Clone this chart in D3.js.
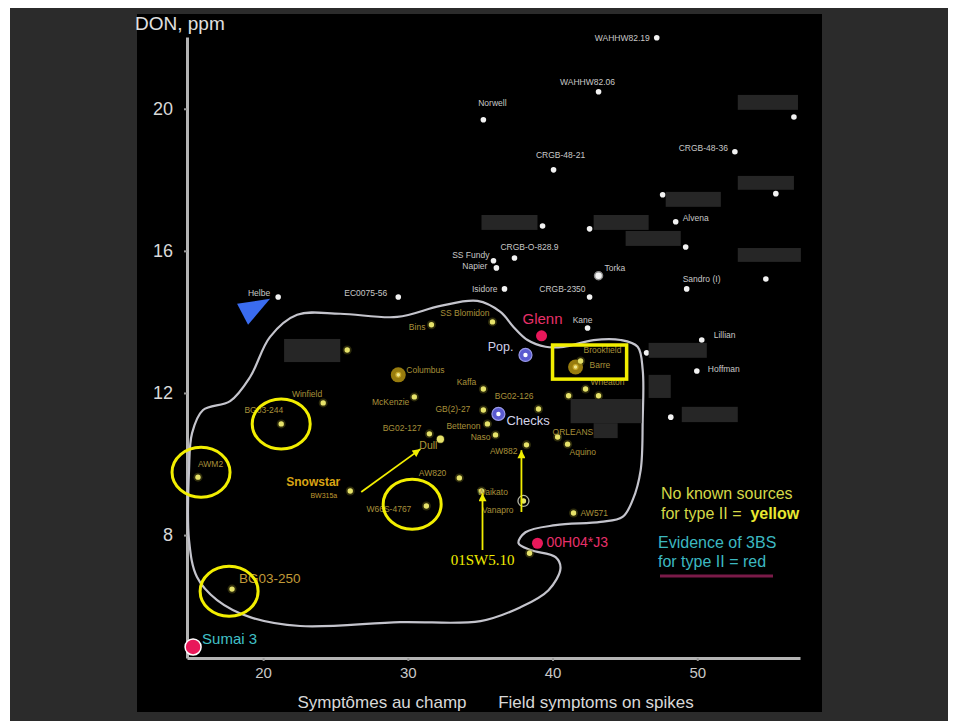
<!DOCTYPE html>
<html>
<head>
<meta charset="utf-8">
<script src="https://cdn.jsdelivr.net/npm/d3@7"></script>
<style>
body { margin: 0; background: #fff; }
svg text { font-family: Arial, "Liberation Sans", sans-serif; }
</style>
</head>
<body>
<div id="chart-area"></div>
<script>
// lines outside the curve (white) : name, field symptoms, DON
let whitePts = [
    ["WAHHW82.19", 47.2, 22.0],
    ["WAHHW82.06", 43.18, 20.48],
    ["Norwell", 35.22, 19.69],
    ["", 56.68, 19.77],
    ["CRGB-48-36", 52.6, 18.79],
    ["CRGB-48-21", 40.07, 18.28],
    ["", 47.61, 17.58],
    ["", 55.43, 17.61],
    ["", 39.31, 16.70],
    ["", 42.56, 16.62],
    ["Alvena", 48.51, 16.82],
    ["", 49.2, 16.11],
    ["", 54.74, 15.21],
    ["CRGB-O-828.9", 37.37, 15.80],
    ["SS Fundy", 35.92, 15.72],
    ["Napier", 36.12, 15.52],
    ["Torka", 43.18, 15.30],
    ["Sandro (I)", 49.27, 14.93],
    ["Isidore", 36.68, 14.93],
    ["CRGB-2350", 42.56, 14.70],
    ["Helbe", 21.04, 14.70],
    ["EC0075-56", 29.34, 14.70],
    ["Kane", 42.42, 13.83],
    ["Lillian", 50.31, 13.49],
    ["", 46.5, 13.13],
    ["Hoffman", 49.97, 12.62],
    ["", 48.17, 11.32]
];

// lines inside the curve (yellow)
let yellowPts = [
    ["", 25.81, 13.21],
    ["SS Blomidon", 35.85, 14.0],
    ["Bins", 31.63, 13.92],
    ["Columbus", 29.34, 12.51],
    ["Kaffa", 35.22, 12.11],
    ["McKenzie", 30.45, 11.89],
    ["Winfield", 24.15, 11.72],
    ["BG03-244", 21.25, 11.13],
    ["GB(2)-27", 35.22, 11.52],
    ["BG02-126", 39.03, 11.55],
    ["Bettenon", 35.5, 11.13],
    ["BG02-127", 31.49, 10.85],
    ["Dull", 32.25, 10.70],
    ["Naso", 36.06, 10.82],
    ["AW882", 38.2, 10.54],
    ["ORLEANS", 40.35, 10.76],
    ["Aquino", 41.04, 10.56],
    ["AW820", 33.56, 9.61],
    ["AWM2", 15.5, 9.63],
    ["Snowstar", 26.02, 9.24],
    ["W66S-4767", 31.28, 8.82],
    ["Waikato", 35.09, 9.24],
    ["Vanapro", 37.99, 8.96],
    ["AW571", 41.45, 8.62],
    ["", 38.41, 7.49],
    ["BG03-250", 17.85, 6.48],
    ["Barre", 41.59, 12.73],
    ["Brookfield", 41.94, 12.9],
    ["Wheaton", 42.28, 12.11],
    ["", 41.11, 11.92],
    ["", 43.18, 11.92]
];

let redPts = [["Glenn", 39.24, 13.61], ["00H04*J3", 38.96, 7.77], ["Sumai 3", 15.16, 4.85]];
let checkPts = [["Pop.", 38.13, 13.07], ["Checks", 36.26, 11.41]];
let ringed = ["Columbus", "Barre", "Torka"];
let whiteRinged = ["Vanapro"];

let yTicks = [8, 12, 16, 20];
let xTicks = [20, 30, 40, 50];

// closed curve round the yellow group
let outline = [
    [22.35, 14.20], [25.33, 14.23], [29.27, 14.14], [32.25, 14.45], [34.81, 14.59],
    [36.40, 14.28], [37.30, 13.86], [38.27, 13.49], [39.52, 13.30], [40.76, 13.30],
    [42.84, 13.49], [44.71, 13.49], [45.88, 13.30], [46.23, 12.65], [46.23, 11.24],
    [46.09, 9.83], [45.54, 8.99], [44.84, 8.51], [43.32, 8.37], [40.21, 8.28],
    [38.13, 8.08], [37.65, 7.77], [38.48, 7.58], [40.21, 7.38], [40.55, 7.07],
    [39.72, 6.45], [37.79, 5.97], [35.02, 5.58], [29.48, 5.55], [22.56, 5.44],
    [19.10, 5.69], [16.82, 6.17], [15.43, 6.82], [14.88, 7.86], [14.88, 9.83],
    [15.09, 10.87], [15.85, 11.52], [17.72, 11.77], [19.10, 12.45], [20.48, 13.58]
];

// hidden names: x0, x1, yTop, yBottom
let redacted = [
    [52.8, 56.96, 20.39, 19.97], [47.82, 51.63, 17.66, 17.24], [52.8, 56.68, 18.11, 17.72],
    [35.09, 38.96, 17.01, 16.59], [42.84, 46.64, 17.01, 16.59], [45.05, 48.86, 16.56, 16.14],
    [52.8, 57.16, 16.08, 15.69], [46.64, 50.66, 13.41, 12.99], [48.93, 52.8, 11.61, 11.18],
    [46.64, 48.17, 12.51, 11.86], [41.25, 46.16, 11.83, 11.15], [42.84, 44.5, 11.15, 10.73],
    [21.45, 25.33, 13.52, 12.87]
];

let circled = [[15.71, 9.77], [21.25, 11.13], [30.3, 8.87], [17.65, 6.42]];
let boxed = [[40.0, 13.35], [45.12, 12.39]];
let arrows = [
    [[26.78, 9.21], [30.87, 10.42]],
    [[35.16, 7.58], [35.16, 9.18]],
    [[37.85, 8.65], [37.85, 10.39]]
];
let pointer = [[18.2, 14.51], [20.48, 14.65], [18.96, 13.92]];

// label offsets from the dot [dx, dy, anchor]
let labelAt = {
    "WAHHW82.19": [-7, 0, "end"], "WAHHW82.06": [-11, -10, "middle"], "Norwell": [9, -17, "middle"],
    "CRGB-48-36": [-7, -4, "end"], "CRGB-48-21": [7, -15, "middle"], "Alvena": [7, -4, "start"],
    "CRGB-O-828.9": [15, -11, "middle"], "SS Fundy": [-4, -6, "end"], "Napier": [-9, -2, "end"],
    "Torka": [6, -8, "start"], "Sandro (I)": [-4, -10, "start"], "Isidore": [-7, 0, "end"],
    "CRGB-2350": [-4, -8, "end"], "Helbe": [-8, -4, "end"], "EC0075-56": [-11, -4, "end"],
    "Kane": [-5, -8, "middle"], "Lillian": [12, -5, "start"], "Hoffman": [11, -2, "start"],
    "SS Blomidon": [-3, -9, "end"], "Bins": [-6, 2, "end"], "Columbus": [8, -5, "start"],
    "Kaffa": [-7, -7, "end"], "McKenzie": [-5, 5, "end"], "Winfield": [-1, -9, "end"],
    "BG03-244": [2, -14, "end"], "GB(2)-27": [-13, -1, "end"], "BG02-126": [-5, -13, "end"],
    "Bettenon": [-7, 2, "end"], "BG02-127": [-8, -6, "end"], "Dull": [-3, 6, "end"],
    "Naso": [-5, 2, "end"], "AW882": [-9, 6, "end"], "ORLEANS": [-5, -5, "start"],
    "Aquino": [2, 8, "start"], "AW820": [-13, -5, "end"], "AWM2": [0, -13, "start"],
    "Snowstar": [-10, -9, "end"], "W66S-4767": [-15, 3, "end"], "Waikato": [-4, 1, "start"],
    "Vanapro": [-10, 9, "end"], "AW571": [7, 0, "start"], "BG03-250": [7, -11, "start"],
    "Barre": [14, -2, "start"], "Brookfield": [3, -11, "start"], "Wheaton": [5, -7, "start"],
    "Glenn": [1, -17, "middle"], "00H04*J3": [9, -1, "start"], "Sumai 3": [9, -8, "start"],
    "Pop.": [-12, -8, "end"], "Checks": [8, 7, "start"]
};

let svg = d3.select("#chart-area")
    .append("svg")
    .attr("width", 958)
    .attr("height", 721);

svg.append("rect").attr("width", 958).attr("height", 721).attr("fill", "#fff");
svg.append("rect").attr("x", 10).attr("y", 8).attr("width", 938).attr("height", 713).attr("fill", "#2b2b2b");
svg.append("rect").attr("x", 137).attr("y", 14).attr("width", 685).attr("height", 698).attr("fill", "#000");

let x = d3.scaleLinear().domain([14.74, 57.1]).range([187, 800]);
let y = d3.scaleLinear().domain([4.54, 22.02]).range([658, 37]);

// axes
let xAxisGroup = svg.append("g")
    .attr("transform", `translate(0,${y(y.domain()[0])})`)
    .call(d3.axisBottom(x).tickValues(xTicks).tickSize(3).tickSizeOuter(0).tickPadding(6));
let yAxisGroup = svg.append("g")
    .attr("transform", `translate(${x(x.domain()[0])},0)`)
    .call(d3.axisLeft(y).tickValues(yTicks).tickSize(3).tickSizeOuter(0).tickPadding(11));

svg.selectAll(".domain").attr("stroke", "#b4b4b4").attr("stroke-width", 3);
svg.selectAll(".tick line").attr("stroke", "#999").attr("stroke-width", 2);
xAxisGroup.selectAll("text").attr("fill", "#c8c8c8").style("font-size", "15px");
yAxisGroup.selectAll("text").attr("fill", "#d8d8d8").style("font-size", "18px");

svg.append("text").attr("x", 135).attr("y", 30).attr("fill", "#e0e0e0")
    .style("font-size", "19px").text("DON, ppm");
svg.append("text").attr("x", 382).attr("y", 708).attr("text-anchor", "middle").attr("fill", "#d8d8d8")
    .style("font-size", "17px").text("Symptômes au champ");
svg.append("text").attr("x", 596).attr("y", 708).attr("text-anchor", "middle").attr("fill", "#d8d8d8")
    .style("font-size", "17px").text("Field symptoms on spikes");

// the curve
svg.append("path")
    .datum(outline)
    .attr("d", d3.line().x(d => x(d[0])).y(d => y(d[1])).curve(d3.curveCatmullRomClosed.alpha(0.5)))
    .attr("fill", "none")
    .attr("stroke", "#c4c4cc")
    .attr("stroke-width", 2.2);

// dots
let whiteG = svg.append("g");
whiteG.selectAll("circle").data(whitePts).enter().append("circle")
    .attr("cx", d => x(d[1])).attr("cy", d => y(d[2]))
    .attr("r", d => ringed.includes(d[0]) ? 4 : 2.8)
    .attr("fill", "#f2f2f2")
    .attr("stroke", d => ringed.includes(d[0]) ? "#888" : "none")
    .attr("stroke-width", 1.5);

let yellowG = svg.append("g");
yellowG.selectAll("circle.halo").data(yellowPts).enter().append("circle")
    .attr("class", "halo")
    .attr("cx", d => x(d[1])).attr("cy", d => y(d[2]))
    .attr("r", d => ringed.includes(d[0]) ? 7.5 : (whiteRinged.includes(d[0]) ? 5.5 : 4.5))
    .attr("fill", d => ringed.includes(d[0]) ? "#a88a10" : (whiteRinged.includes(d[0]) ? "#000" : "#807a20"))
    .attr("stroke", d => whiteRinged.includes(d[0]) ? "#c8c8b8" : "none")
    .attr("stroke-width", 1.3)
    .attr("opacity", d => ringed.includes(d[0]) || whiteRinged.includes(d[0]) ? 0.9 : 0.35);
yellowG.selectAll("circle.dot").data(yellowPts).enter().append("circle")
    .attr("class", "dot")
    .attr("cx", d => x(d[1])).attr("cy", d => y(d[2]))
    .attr("r", d => d[0] === "Dull" ? 3.6 : (ringed.includes(d[0]) ? 2.4 : 2.7))
    .attr("fill", d => ringed.includes(d[0]) ? "#f0e890" : "#e6e26a")
    .attr("stroke", d => ringed.includes(d[0]) ? "#c8a828" : "none")
    .attr("stroke-width", 1.2);

svg.selectAll("circle.red").data(redPts).enter().append("circle")
    .attr("class", "red")
    .attr("cx", d => x(d[1])).attr("cy", d => y(d[2]))
    .attr("r", d => d[0] === "Sumai 3" ? 8 : 5.5)
    .attr("fill", "#e8185a")
    .attr("stroke", d => d[0] === "Sumai 3" ? "#fff" : "none")
    .attr("stroke-width", 1.5);

svg.selectAll("circle.chk").data(checkPts).enter().append("circle")
    .attr("class", "chk")
    .attr("cx", d => x(d[1])).attr("cy", d => y(d[2]))
    .attr("r", 6.5).attr("fill", "#5a5ad0").attr("stroke", "#9a9ae8").attr("stroke-width", 1.2);
svg.selectAll("circle.chkin").data(checkPts).enter().append("circle")
    .attr("class", "chkin")
    .attr("cx", d => x(d[1])).attr("cy", d => y(d[2]))
    .attr("r", 2.2).attr("fill", "#fff");

// hidden names
svg.selectAll("rect.hide").data(redacted).enter().append("rect")
    .attr("class", "hide")
    .attr("x", d => x(d[0])).attr("y", d => y(d[2]))
    .attr("width", d => x(d[1]) - x(d[0])).attr("height", d => y(d[3]) - y(d[2]))
    .attr("fill", "#262626");

// labels
function addLabels(pts, size, color, styleFor) {
    svg.append("g").selectAll("text").data(pts.filter(d => d[0] && labelAt[d[0]])).enter().append("text")
        .attr("x", d => x(d[1]) + labelAt[d[0]][0])
        .attr("y", d => y(d[2]) + labelAt[d[0]][1])
        .attr("dy", "0.35em")
        .attr("text-anchor", d => labelAt[d[0]][2])
        .attr("fill", d => (styleFor && styleFor[d[0]]) ? styleFor[d[0]][1] : color)
        .style("font-size", d => ((styleFor && styleFor[d[0]]) ? styleFor[d[0]][0] : size) + "px")
        .style("font-weight", d => (styleFor && styleFor[d[0]] && styleFor[d[0]][2]) ? "bold" : "normal")
        .text(d => d[0]);
}
addLabels(whitePts, 8.5, "#c8c8c8");
addLabels(yellowPts, 8.5, "#a8903a", {
    "Snowstar": [12, "#d8a414", true],
    "BG03-250": [13.5, "#c09a38"],
    "Dull": [10.5, "#b09838"]
});
addLabels(redPts, 14, "#e8306a", { "Glenn": [15, "#e8306a"], "Sumai 3": [15, "#40c0c8"] });
addLabels(checkPts, 13, "#d4d4e8", { "Pop.": [12.5, "#d0d0e8"] });

let snow = yellowPts.find(d => d[0] === "Snowstar");
svg.append("text").attr("x", x(snow[1]) - 13).attr("y", y(snow[2]) + 5).attr("dy", "0.35em")
    .attr("text-anchor", "end").attr("fill", "#c09a30").style("font-size", "7px").text("BW315a");

// yellow annotations
let yel = "#f2ee00";
svg.append("defs").append("marker")
    .attr("id", "head").attr("viewBox", "0 0 10 10").attr("refX", 10).attr("refY", 5)
    .attr("markerWidth", 9).attr("markerHeight", 8).attr("markerUnits", "userSpaceOnUse")
    .attr("orient", "auto")
    .append("path").attr("d", "M0,0 L10,5 L0,10 Z").attr("fill", yel);

svg.selectAll("ellipse.ring").data(circled).enter().append("ellipse")
    .attr("class", "ring")
    .attr("cx", d => x(d[0])).attr("cy", d => y(d[1]))
    .attr("rx", 29).attr("ry", 25)
    .attr("fill", "none").attr("stroke", yel).attr("stroke-width", 3);

svg.append("rect")
    .attr("x", x(boxed[0][0])).attr("y", y(boxed[0][1]))
    .attr("width", x(boxed[1][0]) - x(boxed[0][0])).attr("height", y(boxed[1][1]) - y(boxed[0][1]))
    .attr("fill", "none").attr("stroke", yel).attr("stroke-width", 3.5);

svg.selectAll("line.arrow").data(arrows).enter().append("line")
    .attr("class", "arrow")
    .attr("x1", d => x(d[0][0])).attr("y1", d => y(d[0][1]))
    .attr("x2", d => x(d[1][0])).attr("y2", d => y(d[1][1]))
    .attr("stroke", yel).attr("stroke-width", 1.8)
    .attr("marker-end", "url(#head)");

svg.append("text").attr("x", x(arrows[1][0][0])).attr("y", y(arrows[1][0][1]) + 15)
    .attr("text-anchor", "middle").attr("fill", yel)
    .style("font-family", "'Liberation Serif', 'DejaVu Serif', serif").style("font-size", "15px")
    .text("01SW5.10");

svg.append("polygon")
    .attr("points", pointer.map(d => x(d[0]) + "," + y(d[1])).join(" "))
    .attr("fill", "#3a6cf0");

// legend text
let leg = svg.append("g").style("font-size", "16px");
leg.append("text").attr("x", 661).attr("y", 499).attr("fill", "#d4d848").text("No known sources");
let l2 = leg.append("text").attr("x", 661).attr("y", 519).attr("fill", "#d4d848");
l2.append("tspan").text("for type II =\u00a0\u00a0");
l2.append("tspan").attr("font-weight", "bold").attr("fill", "#e8e830").text("yellow");
leg.append("text").attr("x", 658).attr("y", 548).attr("fill", "#3cb8c0").text("Evidence of 3BS");
leg.append("text").attr("x", 658).attr("y", 567).attr("fill", "#3cb8c0").text("for type II = red");
leg.append("line").attr("x1", 660).attr("x2", 773).attr("y1", 576).attr("y2", 576)
    .attr("stroke", "#7a1a48").attr("stroke-width", 3);
</script>
</body>
</html>
